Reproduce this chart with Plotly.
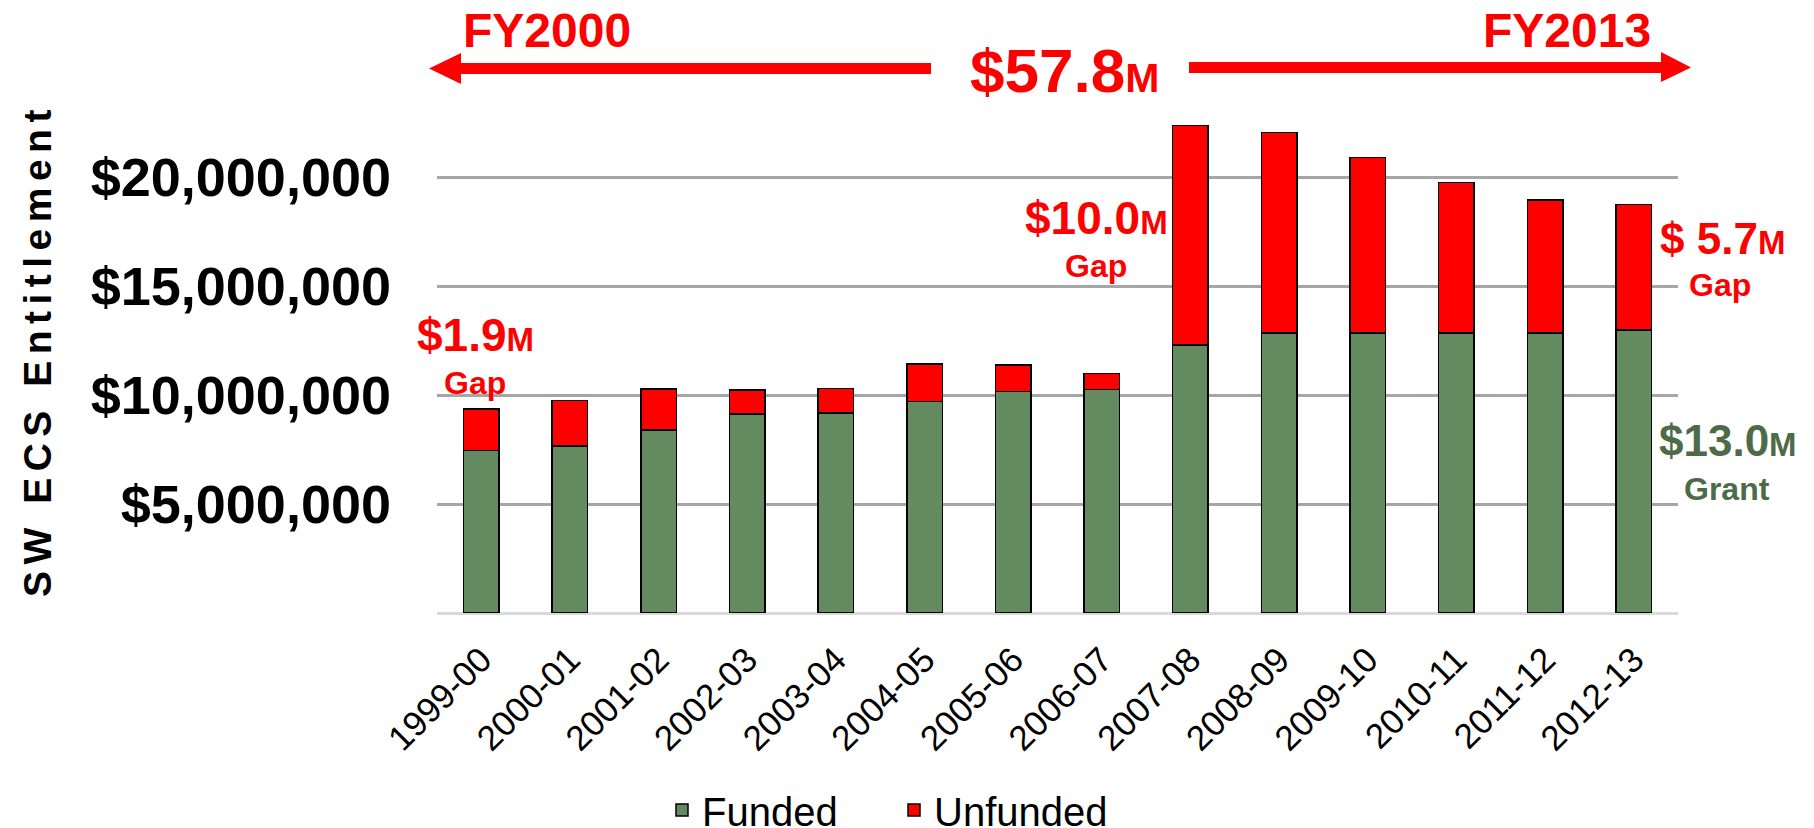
import plotly.graph_objects as go

# ---- data ----
years = ["1999-00", "2000-01", "2001-02", "2002-03", "2003-04", "2004-05", "2005-06",
         "2006-07", "2007-08", "2008-09", "2009-10", "2010-11", "2011-12", "2012-13"]
funded_m = [7.46, 7.66, 8.39, 9.13, 9.17, 9.71, 10.17, 10.26, 12.31, 12.85, 12.85, 12.85, 12.85, 13.00]
unfunded_m = [1.90, 2.09, 1.89, 1.10, 1.13, 1.71, 1.22, 0.73, 10.06, 9.20, 8.06, 6.92, 6.11, 5.74]
y_tick_vals = [5_000_000, 10_000_000, 15_000_000, 20_000_000]
y_tick_text = ["$5,000,000", "$10,000,000", "$15,000,000", "$20,000,000"]

funded = [v * 1_000_000 for v in funded_m]
unfunded = [v * 1_000_000 for v in unfunded_m]

# page body adds an 8px offset; figure is sized to fit the 1814x828 window
OFF = 8
W, H = 1814 - OFF, 828 - OFF
ML, MT = 437 - OFF, 101 - OFF
PLOT_R, PLOT_B = 1678 - OFF, 613 - OFF
MR, MB = W - PLOT_R, H - PLOT_B
PW, PH = PLOT_R - ML, PLOT_B - MT

GREEN = "#638B5F"
RED = "#FF0000"
DKGREEN = "#4D6B48"
FONT = "Arial, Liberation Sans, sans-serif"


def px(x):
    """reference-window x pixel -> paper fraction"""
    return (x - OFF - ML) / PW


def py(y):
    """reference-window y pixel -> paper fraction"""
    return (PLOT_B - (y - OFF)) / PH


fig = go.Figure()
fig.add_trace(go.Bar(x=years, y=funded, name="Funded",
                     marker=dict(color=GREEN, line=dict(color="black", width=1.5))))
fig.add_trace(go.Bar(x=years, y=unfunded, name="Unfunded",
                     marker=dict(color=RED, line=dict(color="black", width=1.5))))

annotations = []


def txt(x, y, text, size, color):
    annotations.append(dict(x=px(x), y=py(y), xref="paper", yref="paper", text=text,
                            showarrow=False, xanchor="center", yanchor="middle",
                            font=dict(family=FONT, size=size, color=color, weight="bold")))


txt(547, 30, "FY2000", 48, RED)
txt(1567, 30, "FY2013", 48, RED)
txt(1064, 70, '$57.8<span style="font-size:41px">M</span>', 62, RED)
txt(475, 335, '$1.9<span style="font-size:33px">M</span>', 46, RED)
txt(475, 383, "Gap", 32, RED)
txt(1096, 218, '$10.0<span style="font-size:33px">M</span>', 46, RED)
txt(1096, 266, "Gap", 32, RED)
txt(1722, 238, '$ 5.7<span style="font-size:33px">M</span>', 44, RED)
txt(1720, 285, "Gap", 32, RED)
txt(1728, 440, '$13.0<span style="font-size:33px">M</span>', 44, DKGREEN)
txt(1727, 489, "Grant", 32, DKGREEN)

# y-axis title (letter spaced)
title = "\u2006".join(list("SW ECS Entitlement"))
annotations.append(dict(x=px(37), y=py(354), xref="paper", yref="paper", text=title,
                        textangle=-90, showarrow=False, xanchor="center", yanchor="middle",
                        font=dict(family=FONT, size=39, color="black", weight="bold")))

shapes = [
    # left arrow
    dict(type="rect", xref="paper", yref="paper", x0=px(458), x1=px(931), y0=py(74), y1=py(63),
         fillcolor=RED, line=dict(width=0)),
    dict(type="path", xref="paper", yref="paper",
         path=f"M {px(429)} {py(68.5)} L {px(461)} {py(53)} L {px(461)} {py(84)} Z",
         fillcolor=RED, line=dict(width=0)),
    # right arrow
    dict(type="rect", xref="paper", yref="paper", x0=px(1189), x1=px(1664), y0=py(73), y1=py(62),
         fillcolor=RED, line=dict(width=0)),
    dict(type="path", xref="paper", yref="paper",
         path=f"M {px(1691)} {py(67.5)} L {px(1661)} {py(52)} L {px(1661)} {py(82)} Z",
         fillcolor=RED, line=dict(width=0)),
]

fig.update_layout(
    width=W, height=H,
    margin=dict(l=ML, r=MR, t=MT, b=MB, autoexpand=False),
    paper_bgcolor="white", plot_bgcolor="white",
    barmode="stack", bargap=0.6,
    font=dict(family=FONT, color="black"),
    showlegend=True,
    legend=dict(orientation="h", xref="container", yref="container",
                x=(894 - OFF) / W, y=1 - (810 - OFF) / H,
                xanchor="center", yanchor="middle", font=dict(size=40, color="black"),
                traceorder="normal", itemwidth=30, entrywidth=187, entrywidthmode="pixels"),
    annotations=annotations,
    shapes=shapes,
)
fig.update_xaxes(type="category", tickangle=-45, tickfont=dict(size=35, color="black"),
                 showgrid=False, showline=False, ticks="", ticklabelstandoff=18,
                 automargin=False)
fig.update_yaxes(range=[0, 23_500_000], tickvals=y_tick_vals, ticktext=y_tick_text,
                 tickfont=dict(size=54, color="black", weight="bold"),
                 showgrid=True, gridcolor="#A6A6A6", gridwidth=3,
                 zeroline=True, zerolinecolor="#D9D9D9", zerolinewidth=3,
                 showline=False, ticks="", ticklabelstandoff=45, automargin=False)

fig.write_html("out.html")
